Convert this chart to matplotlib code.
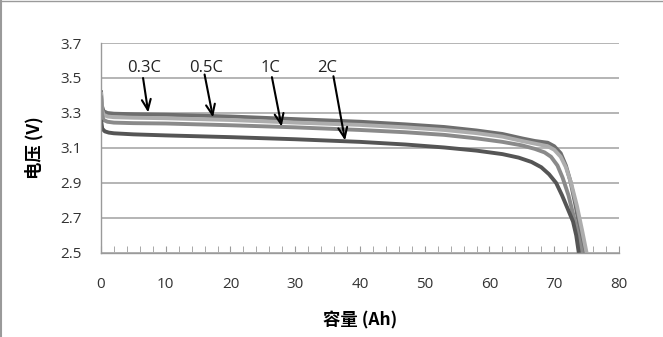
import matplotlib
matplotlib.use("Agg")
import matplotlib.pyplot as plt
from matplotlib.ticker import MultipleLocator
from matplotlib.lines import Line2D

plt.rcParams['font.family'] = ['Open Sans', 'Noto Sans CJK SC', 'DejaVu Sans']

# Discharge curves: capacity (Ah) vs voltage (V) at four rates
cap_03c = [0, 0.15, 0.4, 1, 2, 5, 10, 20, 30, 40, 47, 53, 58, 62, 65, 67, 69, 70, 71, 71.8, 72.5, 73.3, 74, 74.7]
v_03c = [3.43, 3.34, 3.31, 3.30, 3.296, 3.293, 3.29, 3.28, 3.265, 3.25, 3.235, 3.22, 3.20, 3.18, 3.155,
         3.14, 3.13, 3.11, 3.07, 3.0, 2.91, 2.77, 2.63, 2.5]

cap_05c = [0, 0.15, 0.4, 1, 2, 5, 10, 20, 30, 40, 47, 53, 58, 62, 65, 67, 69, 70, 71, 71.8, 72.6, 73.5, 74.3, 75.0]
v_05c = [3.42, 3.32, 3.29, 3.28, 3.276, 3.273, 3.27, 3.26, 3.245, 3.232, 3.218, 3.203, 3.185, 3.165, 3.14,
         3.125, 3.11, 3.09, 3.05, 2.99, 2.9, 2.77, 2.63, 2.5]

cap_1c = [0, 0.15, 0.4, 1, 2, 5, 10, 20, 30, 40, 47, 53, 58, 62, 65, 67, 68.5, 69.5, 70.5, 71.3, 72.2, 73, 73.7, 74.3]
v_1c = [3.40, 3.29, 3.26, 3.25, 3.245, 3.242, 3.24, 3.23, 3.218, 3.203, 3.19, 3.175, 3.155, 3.135, 3.115,
        3.095, 3.075, 3.05, 3.0, 2.93, 2.83, 2.71, 2.6, 2.5]

cap_2c = [0, 0.2, 0.6, 1.2, 2, 5, 10, 20, 30, 40, 47, 53, 58, 62, 64.5, 66.5, 68, 69.2, 70.3, 71.2, 72, 72.9, 73.4, 73.8]
v_2c = [3.26, 3.21, 3.195, 3.188, 3.184, 3.178, 3.172, 3.162, 3.15, 3.135, 3.12, 3.103, 3.085, 3.065, 3.045,
        3.02, 2.99, 2.95, 2.9, 2.83, 2.76, 2.68, 2.6, 2.5]

rate_labels = ['0.3C', '0.5C', '1C', '2C']
# label centre, arrow tail and arrow tip, all in (Ah, V)
label_pos = [(6.6, 3.557), (16.2, 3.557), (26.1, 3.557), (34.9, 3.557)]
arrow_start = [(6.5, 3.50), (16.0, 3.52), (26.4, 3.505), (35.9, 3.51)]
arrow_tip = [(7.3, 3.303), (17.3, 3.275), (27.9, 3.222), (37.7, 3.143)]

fig = plt.figure(figsize=(6.63, 3.37), dpi=100)
ax = fig.add_axes([0.1523, 0.2493, 0.9336 - 0.1523, 0.8724 - 0.2493])

grid_c = '#b4b4b4'
ax.set_xlim(0, 80)
ax.set_ylim(2.5, 3.7)
ax.set_yticks([2.5, 2.7, 2.9, 3.1, 3.3, 3.5, 3.7])
ax.set_yticklabels(['2.5', '2.7', '2.9', '3.1', '3.3', '3.5', '3.7'])
ax.set_xticks(range(0, 81, 10))
ax.xaxis.set_minor_locator(MultipleLocator(2))
ax.grid(axis='y', color=grid_c, lw=1.4)
ax.set_axisbelow(True)

for s in ['top', 'right']:
    ax.spines[s].set_visible(False)
for s in ['left', 'bottom']:
    ax.spines[s].set_color('#9a9a9a')
    ax.spines[s].set_linewidth(1.0)

ax.tick_params(axis='y', length=0, pad=14, labelsize=11, labelcolor='#333333')
ax.tick_params(axis='x', which='both', direction='in', length=5, color='#9a9a9a',
               pad=17, labelsize=11, labelcolor='#333333')

series = [
    (cap_03c, v_03c, '#6e6e6e'),
    (cap_05c, v_05c, '#adadad'),
    (cap_1c, v_1c, '#8a8a8a'),
    (cap_2c, v_2c, '#555555'),
]
for cap, v, c in series:
    ax.plot(cap, v, color=c, lw=2.8, solid_capstyle='butt', clip_on=True)

for lab, (lx, ly) in zip(rate_labels, label_pos):
    ax.text(lx, ly, lab, ha='center', va='center', fontsize=12, color='#222222')

for (sx, sy), (tx, ty) in zip(arrow_start, arrow_tip):
    ax.annotate('', xy=(tx, ty), xytext=(sx, sy),
                arrowprops=dict(arrowstyle='->,head_length=0.75,head_width=0.32',
                                color='black', lw=1.5, shrinkA=0, shrinkB=0))

ax.set_ylabel('电压 (V)', fontsize=12.5, fontweight='bold', labelpad=12,
              family=['Noto Sans CJK SC', 'DejaVu Sans'])
ax.set_xlabel('容量 (Ah)', fontsize=12.5, fontweight='bold', labelpad=14,
              family=['Noto Sans CJK SC', 'DejaVu Sans'])

# light frame on the left and top edges
fig.add_artist(Line2D([0.0008, 0.0008], [0, 1], transform=fig.transFigure, color='#9a9a9a', lw=1.5))
fig.add_artist(Line2D([0, 1], [0.9985, 0.9985], transform=fig.transFigure, color='#9a9a9a', lw=1.0))

fig.savefig('out.png', dpi=100)
